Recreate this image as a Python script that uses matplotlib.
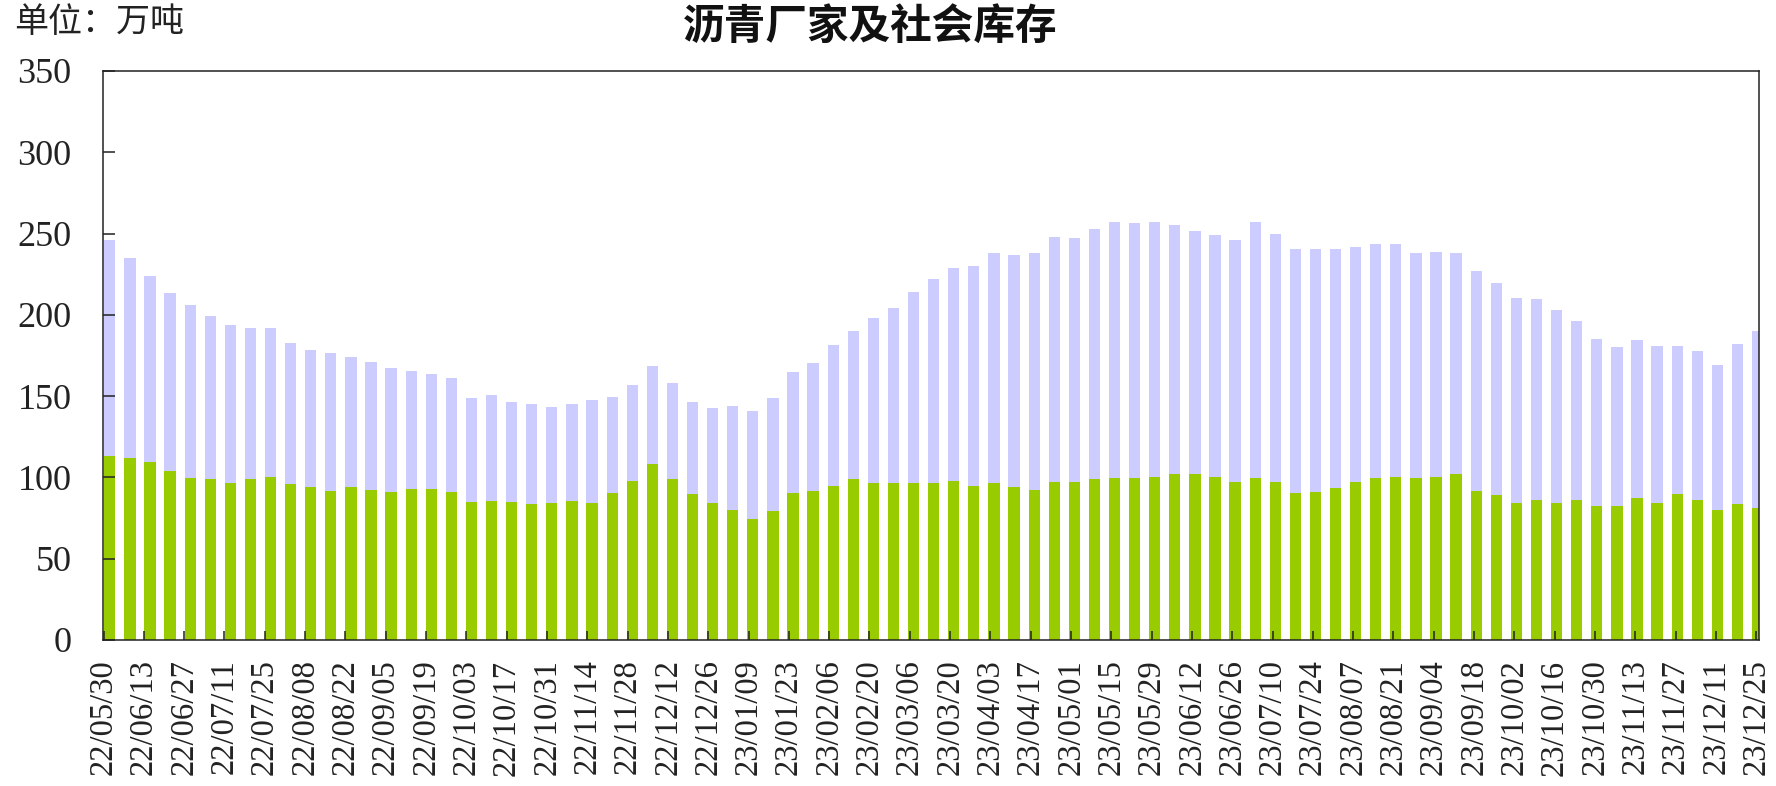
import numpy as np
import pandas as pd
import matplotlib
matplotlib.use("Agg")
import matplotlib.pyplot as plt

# weekly dates, 22/05/30 .. 23/12/25
dates = pd.date_range("2022-05-30", periods=83, freq="7D")
date_labels = dates.strftime("%y/%m/%d").tolist()

# total inventory (万吨)
total = [246.0, 235.2, 223.9, 213.6, 205.9, 199.5, 194.0, 191.7, 191.7, 182.9,
         178.2, 176.5, 174.3, 171.0, 167.1, 165.5, 163.8, 161.4, 149.1, 150.5,
         146.6, 145.0, 143.5, 145.0, 147.4, 149.7, 156.9, 168.8, 158.3, 146.6,
         142.5, 144.1, 140.9, 149.1, 164.6, 170.2, 181.2, 189.8, 197.8, 204.0,
         214.3, 222.1, 228.6, 230.2, 238.3, 236.6, 238.3, 248.1, 247.5, 252.8,
         256.9, 256.3, 256.9, 255.3, 251.4, 249.1, 246.0, 256.9, 250.0, 240.3,
         240.3, 240.3, 242.0, 243.6, 243.6, 238.3, 238.9, 238.3, 227.0, 219.8,
         210.4, 209.6, 203.2, 196.2, 185.2, 180.4, 184.4, 181.1, 181.1, 178.0,
         169.4, 181.9, 190.3]

# factory inventory (green, bottom)
factory = [113.2, 111.7, 109.3, 104.0, 99.9, 98.8, 96.4, 98.8, 100.1, 96.0,
           94.3, 91.7, 94.3, 92.3, 90.8, 92.7, 92.7, 90.8, 84.7, 85.5,
           84.7, 83.7, 84.5, 85.5, 84.5, 90.2, 98.0, 108.3, 98.8, 89.6,
           84.1, 80.0, 74.4, 79.5, 90.2, 91.9, 94.9, 99.0, 96.4, 96.4,
           96.4, 96.4, 98.0, 94.9, 96.4, 93.9, 92.3, 97.0, 97.0, 98.8,
           99.9, 99.9, 100.5, 101.9, 101.9, 100.5, 97.4, 99.9, 97.4, 90.2,
           90.8, 93.5, 97.4, 99.9, 100.5, 99.4, 100.5, 101.9, 91.9, 89.4,
           84.5, 86.1, 84.5, 86.1, 82.4, 82.4, 87.1, 84.5, 89.8, 86.1,
           80.0, 83.7, 81.0]

# social inventory (lavender, stacked on top)
social = np.array(total) - np.array(factory)

num_font = "Liberation Serif"
cjk_font = ["Noto Sans CJK SC", "DejaVu Sans"]

fig = plt.figure(figsize=(17.76, 7.86), dpi=100)
ax = fig.add_axes([0.0582, 0.1858, 0.9322, 0.7239])

x = np.arange(len(total))
ax.bar(x, factory, width=0.56, color="#99CC00", linewidth=0)
ax.bar(x, social, bottom=factory, width=0.56, color="#CCCCFF", linewidth=0)

ax.set_xlim(-0.32, 82.07)
ax.set_ylim(0, 350)
ax.set_yticks(range(0, 351, 50))

tick_pos = np.arange(42) * 2.006 - 0.31
ax.set_xticks(tick_pos)
ax.set_xticklabels(date_labels[::2], rotation=90, fontfamily=num_font,
                   fontsize=23.5, color="#222222")
for lab in ax.get_yticklabels():
    lab.set_fontfamily(num_font)
    lab.set_fontsize(26)
    lab.set_color("#222222")

ax.tick_params(axis="y", direction="in", length=8.6, width=1.1, pad=23,
               color="#222222")
ax.tick_params(axis="x", direction="in", length=6.5, width=1.1, pad=14,
               color="#222222")
for s in ax.spines.values():
    s.set_linewidth(1.1)
    s.set_color("#222222")

fig.text(0.490, 0.9656, "沥青厂家及社会库存", ha="center", va="center",
         fontsize=30, fontweight="bold", family=cjk_font, color="#111111")
fig.text(0.0077, 0.971, "单位：万吨", ha="left", va="center",
         fontsize=24.5, family=cjk_font, color="#222222")

fig.savefig("out.png", dpi=100)
